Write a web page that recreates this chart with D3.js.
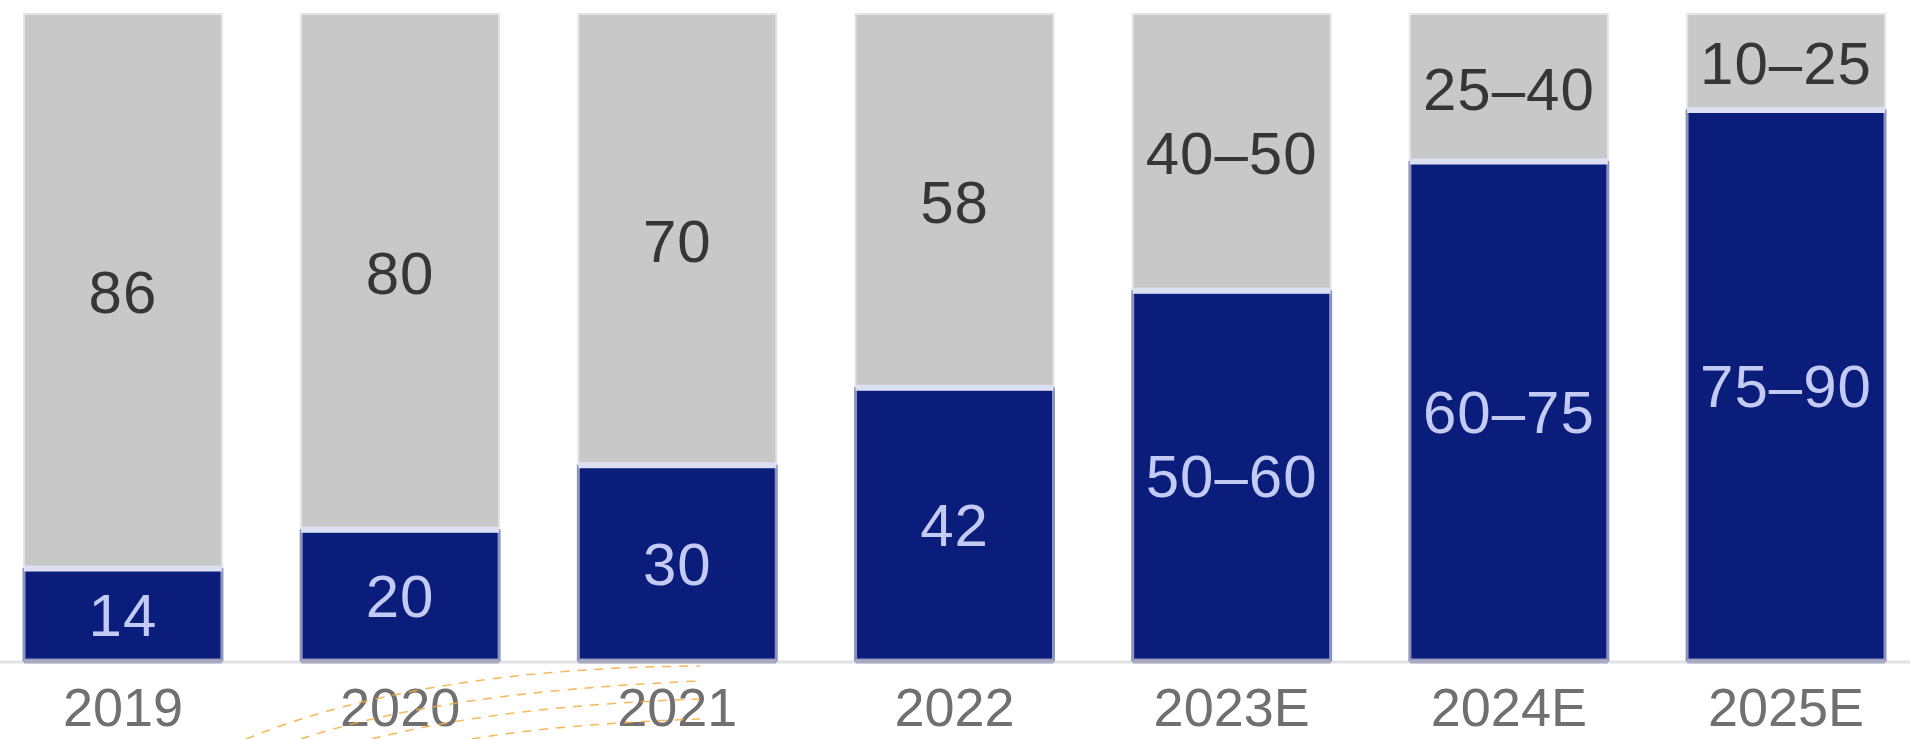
<!DOCTYPE html>
<html>
<head>
<meta charset="utf-8">
<script src="https://cdn.jsdelivr.net/npm/d3@7"></script>
<style>
  html, body { margin: 0; padding: 0; background: #ffffff; }
  svg { display: block; }
  text { font-family: "Liberation Sans", Arial, Helvetica, sans-serif; }
</style>
</head>
<body>
<svg id="chart" width="1910" height="739"></svg>
<script>
// ---- data ----
const categories = ["2019", "2020", "2021", "2022", "2023E", "2024E", "2025E"];
const blueValues = [14, 20, 30, 42, 57, 77, 85];
const grayValues = [86, 80, 70, 58, 43, 23, 15];
const blueLabels = ["14", "20", "30", "42", "50–60", "60–75", "75–90"];
const grayLabels = ["86", "80", "70", "58", "40–50", "25–40", "10–25"];

// ---- layout ----
const W = 1910, H = 739;
const svg = d3.select("#chart");

const x = d3.scaleBand()
  .domain(categories)
  .range([24, 1885])
  .paddingInner(0.286)
  .paddingOuter(0);

const y = d3.scaleLinear()
  .domain([0, 100])
  .range([660, 14]);

const rows = categories.map((c, i) => ({
  cat: c, blue: blueValues[i], gray: grayValues[i],
  bl: blueLabels[i], gl: grayLabels[i]
}));

// baseline
svg.append("line")
  .attr("x1", 0).attr("x2", W)
  .attr("y1", y(0) + 2).attr("y2", y(0) + 2)
  .attr("stroke", "#e2e2e6").attr("stroke-width", 3);

const g = svg.append("g");

// gray segments
g.selectAll("rect.gray").data(rows).join("rect")
  .attr("class", "gray")
  .attr("x", d => x(d.cat))
  .attr("width", x.bandwidth())
  .attr("y", d => y(d.blue + d.gray))
  .attr("height", d => y(d.blue) - y(d.blue + d.gray))
  .attr("fill", "#c8c8c8")
  .attr("stroke", "#e4e4e6")
  .attr("stroke-width", 2);

// blue segments
g.selectAll("rect.blue").data(rows).join("rect")
  .attr("class", "blue")
  .attr("x", d => x(d.cat))
  .attr("width", x.bandwidth())
  .attr("y", d => y(d.blue))
  .attr("height", d => y(0) - y(d.blue))
  .attr("fill", "#0a1d7a")
  .attr("stroke", "#8e93bd")
  .attr("stroke-width", 3);

// separator between segments
g.selectAll("line.sep").data(rows).join("line")
  .attr("class", "sep")
  .attr("x1", d => x(d.cat))
  .attr("x2", d => x(d.cat) + x.bandwidth())
  .attr("y1", d => y(d.blue) - 1)
  .attr("y2", d => y(d.blue) - 1)
  .attr("stroke", "#dde0f2")
  .attr("stroke-width", 6);

// bottom edge of bars
g.selectAll("line.bot").data(rows).join("line")
  .attr("class", "bot")
  .attr("x1", d => x(d.cat))
  .attr("x2", d => x(d.cat) + x.bandwidth())
  .attr("y1", y(0) + 1.5)
  .attr("y2", y(0) + 1.5)
  .attr("stroke", "#a9a9c2")
  .attr("stroke-width", 4);

// gray labels
g.selectAll("text.gl").data(rows).join("text")
  .attr("class", "gl")
  .attr("x", d => x(d.cat) + x.bandwidth() / 2)
  .attr("y", d => (y(d.blue + d.gray) + y(d.blue)) / 2)
  .attr("dy", "0.36em")
  .attr("text-anchor", "middle")
  .attr("font-size", 60)
  .attr("letter-spacing", 1)
  .attr("fill", "#363636")
  .text(d => d.gl);

// blue labels
g.selectAll("text.bl").data(rows).join("text")
  .attr("class", "bl")
  .attr("x", d => x(d.cat) + x.bandwidth() / 2)
  .attr("y", d => (y(d.blue) + y(0)) / 2)
  .attr("dy", "0.36em")
  .attr("text-anchor", "middle")
  .attr("font-size", 60)
  .attr("letter-spacing", 1)
  .attr("fill", "#c3cbf5")
  .text(d => d.bl);

// x axis (category labels)
const xAxis = svg.append("g")
  .attr("transform", `translate(0,${y(0)})`)
  .call(d3.axisBottom(x).tickSize(0).tickPadding(66));
xAxis.select(".domain").remove();
xAxis.selectAll("text")
  .attr("font-size", 54)
  .attr("font-family", "\"Liberation Sans\", Arial, sans-serif")
  .attr("fill", "#707070")
  .attr("dy", 0);

// decorative orange dashed arcs (background ornament)
const arcs = [
  [[246, 739], [420, 668], [700, 666]],
  [[301, 739], [440, 692], [700, 681]],
  [[372, 739], [500, 706], [700, 699]],
  [[472, 739], [560, 724], [700, 719]]
];
svg.append("g").selectAll("path").data(arcs).join("path")
  .attr("d", a => `M${a[0][0]},${a[0][1]} Q${a[1][0]},${a[1][1]} ${a[2][0]},${a[2][1]}`)
  .attr("fill", "none")
  .attr("stroke", "#f5ab3c")
  .attr("stroke-width", 1.5)
  .attr("stroke-dasharray", "9 8")
  .attr("opacity", 0.85);
</script>
</body>
</html>
